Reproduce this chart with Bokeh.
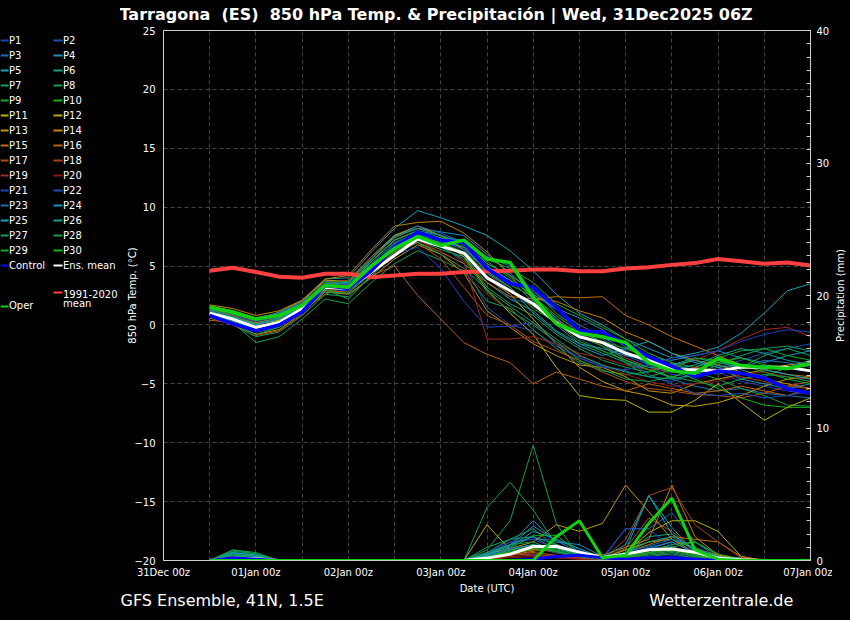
import math
from bokeh.plotting import figure
from bokeh.layouts import row
from bokeh.models import Range1d, LinearAxis, FixedTicker, Title
from bokeh.core.properties import value
from bokeh.embed import file_html
from bokeh.resources import INLINE

# ---------------- data ----------------
hours = [12, 18, 24, 30, 36, 42, 48, 54, 60, 66, 72, 78, 84, 90, 96, 102, 108,
         114, 120, 126, 132, 138, 144, 150, 156, 162, 168]
x_ticks = [0, 24, 48, 72, 96, 120, 144, 168]
x_tick_labels = ["31Dec 00z", "01Jan 00z", "02Jan 00z", "03Jan 00z", "04Jan 00z",
                 "05Jan 00z", "06Jan 00z", "07Jan 00z"]
grid_hours = [0, 12, 24, 36, 48, 60, 72, 84, 96, 108, 120, 132, 144, 156, 168]
temp_ticks = [-20, -15, -10, -5, 0, 5, 10, 15, 20, 25]
precip_ticks = [0, 10, 20, 30, 40]

member_names = ["P%d" % k for k in range(1, 31)]
member_colors = ["#2040c0", "#1a50b4", "#1a6eb8", "#1a8ec0", "#10a0b8", "#10a088",
                 "#10a060", "#10a048", "#10ac28", "#10b410",
                 "#b8b400", "#c0a400", "#c09400", "#c08400", "#c07000", "#b86010",
                 "#b05010", "#a84020", "#a02a20", "#901818",
                 "#2040c0", "#1a50b4", "#1a6eb8", "#1a8ec0", "#10a0b8", "#10a088",
                 "#10a060", "#10a048", "#10ac28", "#10b410"]

temp_members = [
    [1.2,0.4,-0.5,0.0,1.2,3.0,2.9,4.8,6.5,7.6,7.0,6.6,4.5,3.0,1.6,0.5,-0.8,-1.6,-2.6,-3.4,-4.2,-4.5,-4.0,-4.8,-5.2,-5.6,-5.9],
    [0.9,0.3,-0.3,0.4,1.6,3.4,3.3,5.0,6.8,7.7,6.9,5.2,1.5,0.0,-0.5,-1.8,-2.8,-3.5,-3.9,-4.4,-4.8,-4.2,-3.6,-3.0,-2.4,-2.0,-1.6],
    [1.4,0.7,0.2,0.6,1.5,3.1,3.2,4.9,6.9,7.9,7.3,6.4,4.8,3.8,2.6,1.3,0.0,-1.0,-2.2,-3.4,-4.6,-5.2,-5.6,-5.4,-5.8,-6.0,-6.2],
    [1.3,0.9,0.5,0.9,1.9,3.5,3.6,5.6,7.6,8.2,7.9,7.6,6.0,4.4,2.6,1.4,0.6,-0.4,-1.9,-2.8,-3.0,-2.6,-2.2,-2.8,-3.2,-2.6,-2.2],
    [1.5,1.0,0.4,1.1,2.1,3.9,4.0,6.2,8.2,9.7,9.1,8.4,7.6,6.3,4.6,2.6,1.0,0.0,-1.2,-2.0,-2.8,-2.4,-1.9,-0.7,1.0,2.9,3.5],
    [1.1,0.6,-0.2,0.4,1.3,3.3,3.0,4.6,6.3,7.2,6.4,5.8,3.6,2.2,1.2,-0.5,-1.6,-2.4,-3.2,-3.8,-4.5,-3.6,-3.0,-3.8,-4.4,-3.6,-3.0],
    [0.8,0.0,-1.0,-0.6,0.8,2.6,2.4,4.2,6.0,7.3,6.8,6.0,3.2,1.8,0.8,-0.8,-2.0,-3.0,-3.6,-4.0,-3.4,-2.8,-3.2,-3.6,-2.6,-2.0,-2.6],
    [1.0,0.2,-1.5,-1.0,0.5,2.2,1.8,3.6,5.2,6.3,5.5,4.6,2.0,1.4,-0.4,-2.0,-3.2,-3.9,-4.2,-4.0,-3.2,-4.0,-4.6,-5.4,-6.0,-6.8,-6.9],
    [1.3,0.8,0.0,0.5,1.6,3.4,3.5,5.2,7.0,7.8,7.4,7.2,5.6,4.8,3.6,1.8,0.8,-0.2,-1.2,-2.4,-3.2,-3.6,-2.8,-2.2,-2.0,-2.6,-3.0],
    [1.2,0.5,-0.6,-0.2,1.1,3.0,2.7,4.4,6.2,7.4,6.6,6.2,4.8,3.4,2.4,0.8,-0.6,-1.4,-2.0,-2.8,-3.8,-4.6,-5.4,-6.2,-6.8,-7.0,-7.0],
    [0.9,0.5,0.1,0.4,1.4,3.4,3.3,5.4,7.2,8.0,7.2,5.8,3.0,1.0,-0.8,-3.6,-6.0,-6.3,-6.4,-7.4,-7.4,-6.4,-5.0,-6.6,-8.1,-7.0,-6.2],
    [1.6,1.2,0.6,1.0,2.0,3.8,3.7,5.8,7.6,8.4,7.6,6.4,4.0,2.6,0.5,-1.6,-3.6,-4.8,-5.6,-6.0,-6.8,-6.9,-6.6,-6.0,-5.2,-4.6,-4.4],
    [0.6,0.0,-0.8,-0.4,1.0,2.8,2.6,4.0,5.6,6.8,6.0,4.4,1.2,-0.2,-1.6,-2.6,-3.4,-3.6,-4.4,-5.6,-5.8,-5.0,-4.6,-4.2,-3.8,-3.4,-3.2],
    [1.7,1.4,0.8,1.2,2.1,3.9,4.2,6.4,8.4,8.7,8.8,7.8,6.2,4.2,2.2,2.0,1.2,0.6,-0.6,-1.4,-2.4,-3.0,-3.4,-4.0,-4.6,-5.0,-5.4],
    [1.0,0.6,0.2,0.6,1.7,3.6,3.4,5.0,6.6,7.0,6.2,5.2,3.6,2.4,2.2,2.4,2.3,2.4,0.8,0.0,-1.0,-1.8,-2.6,-3.4,-3.8,-4.2,-4.4],
    [0.4,0.2,-0.4,0.2,1.2,2.6,3.4,4.2,5.0,2.5,0.5,-1.5,-2.5,-3.2,-5.0,-4.0,-4.6,-5.2,-5.6,-5.0,-5.4,-5.8,-5.6,-5.2,-5.6,-6.0,-5.4],
    [1.1,0.3,-0.9,-0.5,0.9,2.9,2.8,4.6,6.2,7.0,5.6,3.2,0.8,0.0,-1.4,-2.2,-3.0,-4.0,-4.8,-5.4,-5.6,-5.9,-6.0,-6.2,-5.8,-5.2,-4.8],
    [1.3,0.8,0.3,0.8,1.8,3.6,3.8,5.8,7.4,8.2,7.6,6.8,4.4,2.8,1.6,0.4,-0.6,-1.8,-2.8,-3.6,-4.0,-3.6,-3.8,-4.4,-4.8,-5.2,-5.4],
    [0.8,0.1,-0.6,0.1,1.3,3.0,3.1,4.8,6.4,7.6,6.8,5.4,-1.2,-1.2,-1.0,-1.6,-2.4,-2.8,-3.4,-3.8,-3.6,-3.0,-2.2,-1.2,-0.4,-0.2,-1.0],
    [1.2,0.6,-0.1,0.3,1.5,3.3,3.2,5.0,6.6,7.2,6.2,4.4,2.6,1.2,0.0,-1.4,-2.6,-3.4,-4.2,-4.8,-5.2,-5.0,-4.8,-4.2,-4.0,-4.4,-4.6],
    [1.0,0.4,-0.4,0.2,1.4,3.2,3.0,4.4,6.0,6.6,4.8,2.0,-0.2,-0.1,0.2,-1.6,-2.8,-3.6,-3.8,-3.4,-2.8,-2.6,-2.2,-1.4,-0.8,-0.4,-0.6],
    [1.4,0.9,0.3,0.7,1.7,3.5,3.4,5.2,7.0,7.8,7.1,6.4,4.2,2.2,1.8,0.6,-1.2,-2.2,-3.0,-4.2,-5.0,-5.8,-6.0,-5.8,-6.2,-6.0,-5.6],
    [1.5,1.1,0.6,1.0,1.9,3.7,3.5,5.6,7.4,8.4,7.8,7.0,5.8,5.0,2.8,1.4,-0.4,-1.2,-2.4,-3.2,-3.4,-3.8,-4.2,-3.6,-3.0,-3.2,-3.6],
    [1.2,0.6,0.0,0.5,1.5,3.1,3.3,5.4,7.2,8.0,7.6,6.8,5.0,3.8,2.0,0.0,-1.6,-2.0,-2.6,-3.0,-3.4,-3.0,-3.6,-4.6,-5.0,-5.4,-5.0],
    [1.0,0.4,-0.3,0.3,1.3,3.2,3.1,4.8,6.6,7.6,7.2,6.6,4.6,3.2,1.0,-0.6,-1.8,-2.6,-2.0,-1.4,-2.4,-3.2,-3.6,-3.4,-3.8,-4.2,-4.6],
    [1.3,0.7,0.1,0.6,1.6,3.4,3.6,5.6,7.5,8.2,7.6,7.0,5.2,4.2,3.0,1.0,-0.4,-1.6,-3.0,-3.6,-3.8,-3.4,-2.6,-2.0,-2.4,-3.0,-3.4],
    [0.7,0.1,-0.8,-0.2,1.1,2.8,2.7,4.4,6.1,7.0,6.0,4.8,3.0,1.6,0.2,-1.2,-2.6,-3.4,-4.0,-4.4,-4.6,-4.2,-3.4,-2.6,-2.0,-1.8,-2.2],
    [1.1,0.5,-0.3,0.3,1.4,3.0,2.2,4.2,6.0,7.2,6.6,5.6,2.8,1.2,0.0,-1.4,-3.0,-3.8,-4.6,-4.8,-4.4,-4.8,-5.2,-4.6,-4.2,-4.4,-4.8],
    [1.4,0.9,0.4,0.9,1.8,3.6,3.7,5.4,7.2,8.0,7.4,6.6,5.4,4.0,2.4,0.6,-1.0,-1.8,-3.2,-4.4,-3.8,-2.8,-3.0,-3.4,-4.0,-4.6,-5.0],
    [0.9,0.3,-0.5,0.0,1.2,3.1,3.0,4.6,6.4,7.5,7.0,6.2,4.4,3.2,1.4,0.2,-1.4,-2.2,-3.0,-3.8,-4.4,-3.8,-3.2,-2.8,-3.4,-3.6,-3.8],
]
temp_control = [0.8,0.1,-0.5,0.0,1.1,3.35,3.1,4.6,6.6,7.9,7.2,7.0,4.8,3.5,3.2,1.5,-0.5,-0.6,-1.6,-2.7,-3.5,-4.4,-3.9,-4.1,-4.5,-5.4,-5.8]
temp_oper = [1.5,1.1,0.5,0.8,1.65,3.35,3.2,5.0,6.5,7.5,6.75,7.2,5.6,5.3,2.35,0.1,-0.7,-1.0,-1.5,-3.2,-3.9,-4.1,-2.85,-3.45,-3.6,-3.7,-3.3]
temp_ensmean = [1.0,0.5,-0.2,0.2,1.4,3.2,3.1,4.5,5.9,7.3,6.7,6.1,4.0,2.9,1.8,0.2,-1.0,-1.5,-2.4,-3.0,-3.8,-3.8,-3.9,-3.6,-3.6,-3.6,-3.9]
temp_clim = [4.6,4.85,4.5,4.1,4.0,4.35,4.35,4.05,4.2,4.35,4.35,4.5,4.55,4.6,4.7,4.7,4.55,4.55,4.8,4.9,5.1,5.25,5.6,5.4,5.2,5.3,5.05]

precip_members = [
    [0,0.3,0.2,0,0,0,0,0,0,0,0,0,0.2,0.6,0.4,0.3,0.2,0,0.3,0.5,0.4,0.2,0,0,0,0,0],
    [0,0.2,0.1,0,0,0,0,0,0,0,0,0,0.4,1.4,1.6,1.6,0.8,0.1,0.6,0.9,1.1,0.4,0.1,0,0,0,0],
    [0,0.3,0.2,0,0,0,0,0,0,0,0,0,0.3,0.8,1.0,0.9,0.5,0.2,2.4,2.4,3.6,1.4,0.2,0,0,0,0],
    [0,0.4,0.2,0,0,0,0,0,0,0,0,0,0.5,1.2,3.0,1.4,1.2,0.3,0.4,0.8,1.0,0.5,0.2,0,0,0,0],
    [0,0.5,0.3,0,0,0,0,0,0,0,0,0,0.4,1.0,2.2,1.6,0.9,0.2,0.8,4.9,2.5,0.6,0.2,0,0,0,0],
    [0,0.6,0.4,0,0,0,0,0,0,0,0,0,0.6,1.6,1.8,0.8,0.4,0.2,0.5,1.8,2.0,0.7,0.3,0.2,0,0,0],
    [0,0.8,0.6,0,0,0,0,0,0,0,0,0,4.0,5.9,3.8,1.2,0.3,0.1,0.2,0.4,0.6,0.3,0,0,0,0,0],
    [0,0.6,0.4,0,0,0,0,0,0,0,0,0,0.8,3.0,8.7,2.8,0.2,0,0.1,0.3,0.5,0.2,0,0,0,0,0],
    [0,0.4,0.2,0,0,0,0,0,0,0,0,0,0.3,0.9,1.9,1.9,0.6,0.1,0.3,0.7,1.2,1.4,0.4,0,0,0,0],
    [0,0.3,0.2,0,0,0,0,0,0,0,0,0,0.2,0.5,0.8,1.2,0.4,0,0.2,0.5,0.9,0.5,0.1,0,0,0,0],
    [0,0.2,0.1,0,0,0,0,0,0,0,0,0,2.7,0.8,1.2,0.6,0.3,0.1,0.6,2.1,3.0,3.0,2.2,0.3,0,0,0],
    [0,0.1,0.1,0,0,0,0,0,0,0,0,0,0.3,0.6,0.9,1.0,0.5,0.2,0.8,1.4,1.6,0.9,0.4,0.1,0,0,0],
    [0,0.2,0.1,0,0,0,0,0,0,0,0,0,0.5,0.9,1.4,2.7,2.2,2.8,5.7,3.7,1.6,0.6,0.1,0,0,0,0],
    [0,0.2,0.1,0,0,0,0,0,0,0,0,0,0.2,0.6,0.8,1.2,0.6,0.4,1.0,1.6,5.7,1.8,0.4,0.1,0,0,0],
    [0,0.2,0.1,0,0,0,0,0,0,0,0,0,0.1,0.4,0.7,0.9,0.5,0.2,0.6,1.2,1.8,1.6,1.4,0.3,0,0,0],
    [0,0.1,0.1,0,0,0,0,0,0,0,0,0,0.2,0.5,0.6,0.4,0.2,0.1,0.4,0.8,1.0,0.6,0.2,0,0,0,0],
    [0,0.2,0.1,0,0,0,0,0,0,0,0,0,0.3,0.6,0.9,0.6,0.3,0.2,0.9,3.2,2.2,0.8,0.2,0,0,0,0],
    [0,0.2,0.1,0,0,0,0,0,0,0,0,0,0.2,0.4,0.5,0.3,0.2,0.1,1.6,4.9,5.5,2.7,1.4,0.2,0,0,0],
    [0,0.1,0.1,0,0,0,0,0,0,0,0,0,0.1,0.3,0.4,0.2,0.1,0,0.3,0.6,0.8,0.4,0.1,0,0,0,0],
    [0,0.1,0.1,0,0,0,0,0,0,0,0,0,0.1,0.2,0.3,0.2,0.1,0,0.2,0.5,0.7,0.3,0.1,0,0,0,0],
    [0,0.2,0.1,0,0,0,0,0,0,0,0,0,0.6,1.4,1.6,0.9,0.3,0.1,2.4,2.4,1.0,0.4,0.1,0,0,0,0],
    [0,0.3,0.2,0,0,0,0,0,0,0,0,0,0.3,0.7,1.0,0.6,0.3,0.1,0.5,1.0,1.4,0.6,0.2,0,0,0,0],
    [0,0.4,0.2,0,0,0,0,0,0,0,0,0,0.4,0.9,1.2,1.0,0.5,0.2,0.6,1.1,1.6,1.0,0.3,0,0,0,0],
    [0,0.5,0.3,0,0,0,0,0,0,0,0,0,0.5,1.1,2.6,1.5,0.6,0.2,0.4,0.9,1.4,0.6,0.2,0,0,0,0],
    [0,0.6,0.4,0,0,0,0,0,0,0,0,0,0.4,1.2,1.8,1.2,0.6,0.2,1.2,4.9,2.0,0.8,0.3,0,0,0,0],
    [0,0.5,0.3,0,0,0,0,0,0,0,0,0,0.3,0.8,1.2,0.7,0.3,0.1,0.6,1.4,1.8,0.8,0.3,0.1,0,0,0],
    [0,0.7,0.5,0,0,0,0,0,0,0,0,0,1.0,1.6,2.4,1.0,0.4,0.1,0.3,0.6,0.9,0.4,0.1,0,0,0,0],
    [0,0.8,0.5,0,0,0,0,0,0,0,0,0,0.6,1.2,1.4,0.7,0.3,0.1,0.2,0.5,0.7,0.3,0.1,0,0,0,0],
    [0,0.4,0.2,0,0,0,0,0,0,0,0,0,0.3,0.7,1.0,0.9,0.4,0.1,0.3,0.8,1.0,1.4,0.5,0.1,0,0,0],
    [0,0.3,0.2,0,0,0,0,0,0,0,0,0,0.2,0.6,0.9,0.7,0.3,0.1,0.2,0.6,0.8,0.4,0.1,0,0,0,0],
]
precip_control = [0,0.2,0.1,0,0,0,0,0,0,0,0,0,0,0,0.1,0.3,0.4,0.2,0.1,0.2,0.2,0.1,0,0,0,0,0]
precip_oper = [0,0,0,0,0,0,0,0,0,0,0,0,0,0,0,1.8,3.0,0.2,0.4,2.8,4.7,0.8,0.1,0,0,0,0]
precip_ensmean = [0,0.18,0.13,0,0,0,0,0,0,0,0,0,0.18,0.48,1.06,1.06,0.63,0.23,0.48,0.81,0.86,0.63,0.18,0.05,0,0,0]

NB = "\u00a0"
title_text = "Tarragona " + NB + "(ES) " + NB + "850 hPa Temp. & Precipitación | Wed, 31Dec2025 06Z"
left_footer = "GFS Ensemble, 41N, 1.5E"
right_footer = "Wetterzentrale.de"
precip_label = "Precipitation (mm)"

FONT = "DejaVu Sans"
LEG_W = 120          # width of the legend strip at the left
RIGHT_W = 18         # width of the strip holding the precipitation label
PLOT_LEFT = 163      # frame left edge in page pixels
PLOT_RIGHT = 810     # frame right edge in page pixels
TOP, BOTTOM = 30, 560


def strip(width):
    f = figure(width=width, height=620, output_backend="svg", toolbar_location=None,
               title=None, x_range=Range1d(0, width), y_range=Range1d(BOTTOM, TOP),
               min_border_left=0, min_border_right=0, min_border_top=TOP,
               min_border_bottom=620 - BOTTOM, x_axis_location=None,
               y_axis_location=None, background_fill_color="black",
               border_fill_color="black", outline_line_color=None)
    f.xgrid.visible = False
    f.ygrid.visible = False
    return f


# ---------------- legend strip (page-pixel coordinates) ----------------
leg = strip(LEG_W)
key_x0, key_x1, key_y, key_c = [], [], [], []
txt_x, txt_y, txt_s = [], [], []
row_y0, row_dy = 40, 15
for k in range(30):
    col, r = k % 2, k // 2
    gx = 0 if col == 0 else 53
    gw = 8 if col == 0 else 9
    yy = row_y0 + r * row_dy
    key_x0.append(gx); key_x1.append(gx + gw); key_y.append(yy); key_c.append(member_colors[k])
    txt_x.append(gx + gw + 0.5); txt_y.append(yy); txt_s.append(member_names[k])
yc = row_y0 + 15 * row_dy
for gx, gw, yy, ty, c, s in [(0, 8, yc, yc, "#0000ff", "Control"),
                             (53, 9, yc, yc, "white", "Ens. mean"),
                             (53, 9, 292, 293, "#ff4040", "1991-2020"),
                             (0, 8, 306, 305, "#10d010", "Oper")]:
    key_x0.append(gx); key_x1.append(gx + gw); key_y.append(yy); key_c.append(c)
    txt_x.append(gx + gw + 0.5); txt_y.append(ty); txt_s.append(s)
txt_x.append(62.5); txt_y.append(303); txt_s.append("mean")

leg.segment(x0=key_x0, y0=key_y, x1=key_x1, y1=key_y, line_color=key_c, line_width=2)
leg.text(x=txt_x, y=txt_y, text=txt_s, text_color="white", text_font=value(FONT),
         text_font_size=value("10px"), text_baseline="middle", text_align="left")

# ---------------- right strip: precipitation axis title ----------------
rs = strip(RIGHT_W)
rs.text(x=[8], y=[(TOP + BOTTOM) / 2], text=[precip_label], angle=math.pi / 2,
        text_color="white", text_font=value(FONT), text_font_size=value("10px"),
        text_baseline="middle", text_align="center")

# ---------------- main chart ----------------
main_w = 850 - LEG_W - RIGHT_W
p = figure(width=main_w, height=620, output_backend="svg", toolbar_location=None,
           x_range=Range1d(0, 168), y_range=Range1d(-20, 25),
           min_border_left=PLOT_LEFT - LEG_W,
           min_border_right=(850 - RIGHT_W) - PLOT_RIGHT, min_border_top=TOP,
           min_border_bottom=620 - BOTTOM, background_fill_color="black",
           border_fill_color="black", outline_line_color="#cccccc",
           outline_line_width=1)
p.title = Title(text=title_text, align="left", offset=-(PLOT_LEFT - LEG_W) - 1,
                text_color="white", text_font=FONT, text_font_size="16px",
                text_font_style="bold", standoff=9, text_line_height=1.0,
                vertical_align="top")
p.extra_y_ranges = {"precip": Range1d(0, 40)}

xa = p.xaxis[0]
xa.ticker = FixedTicker(ticks=x_ticks)
xa.major_label_overrides = {t: s for t, s in zip(x_ticks, x_tick_labels)}
xa.axis_label = "Date (UTC)"

ya = p.yaxis[0]
ya.ticker = FixedTicker(ticks=temp_ticks)
ya.axis_label = "850 hPa Temp. (°C)"

ra = LinearAxis(y_range_name="precip",
                ticker=FixedTicker(ticks=precip_ticks, minor_ticks=list(range(0, 41))))
p.add_layout(ra, "right")

for ax in (xa, ya, ra):
    ax.axis_line_color = "#d0d0d0"
    ax.major_label_text_color = "white"
    ax.major_label_text_font = FONT
    ax.major_label_text_font_size = "10px"
    ax.axis_label_text_color = "white"
    ax.axis_label_text_font = FONT
    ax.axis_label_text_font_size = "10px"
    ax.axis_label_text_font_style = "normal"
    ax.major_tick_out = 0
    ax.minor_tick_out = 0
    ax.major_tick_in = 0
    ax.minor_tick_in = 0
    ax.major_tick_line_color = "#d0d0d0"
    ax.minor_tick_line_color = "#d0d0d0"

xa.major_label_standoff = 6
xa.axis_label_standoff = 2
ya.major_label_standoff = 8
ya.axis_label_standoff = -7
ra.major_label_standoff = 6
ra.major_tick_in = 4
ra.minor_tick_in = 4

# footer line: both footer texts in one Title, separated by non-breaking spaces
gap = NB * 64
p.add_layout(Title(text=left_footer + gap + right_footer, align="left",
                   offset=-(PLOT_LEFT - LEG_W), text_color="white", text_font=FONT,
                   text_font_size="16px", text_font_style="normal", standoff=-15),
             "below")

p.xgrid.ticker = FixedTicker(ticks=grid_hours)
for g in (p.xgrid[0], p.ygrid[0]):
    g.grid_line_color = "#444444"
    g.grid_line_dash = "4 3"
    g.grid_line_width = 1

# precipitation (right axis)
for k in range(30):
    p.line(hours, precip_members[k], y_range_name="precip",
           line_color=member_colors[k], line_width=1)
p.line(hours, precip_ensmean, y_range_name="precip", line_color="white", line_width=3)
p.line(hours, precip_control, y_range_name="precip", line_color="#0000ff", line_width=3)
p.line(hours, precip_oper, y_range_name="precip", line_color="#10d010", line_width=3)

# temperature (left axis)
for k in range(30):
    p.line(hours, temp_members[k], line_color=member_colors[k], line_width=1)
p.line(hours, temp_clim, line_color="#ff4040", line_width=4)
p.line(hours, temp_ensmean, line_color="white", line_width=3)
p.line(hours, temp_control, line_color="#0000ff", line_width=3.5)
p.line(hours, temp_oper, line_color="#10d010", line_width=3.5)

layout = row(leg, p, rs, spacing=0, styles={"background-color": "#000000"})
open("out.html", "w").write(file_html(layout, INLINE))
